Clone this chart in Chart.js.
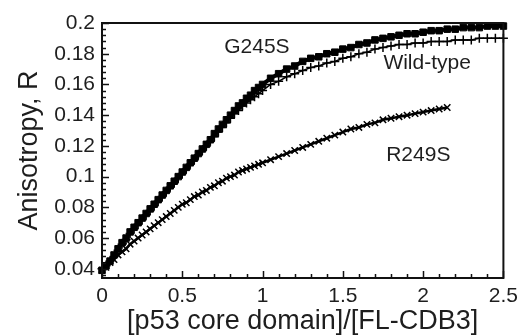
<!DOCTYPE html>
<html>
<head>
<meta charset="utf-8">
<script src="https://cdn.jsdelivr.net/npm/chart.js@4.4.1/dist/chart.umd.min.js"></script>
<style>
  html, body { margin: 0; padding: 0; background: #fff; }
  #wrap { width: 524px; height: 335px; }
</style>
</head>
<body>
<div id="wrap"><canvas id="c"></canvas></div>
<script>
// [p53 core domain]/[FL-CDB3]
const ratio = [0, 0.025, 0.05, 0.075, 0.1, 0.125, 0.15, 0.175, 0.2, 0.225, 0.25, 0.275, 0.3, 0.325, 0.35, 0.375, 0.4, 0.425, 0.45, 0.475,
	0.5, 0.525, 0.55, 0.575, 0.6, 0.625, 0.65, 0.675, 0.7, 0.725, 0.75, 0.775, 0.8, 0.825, 0.85, 0.875, 0.9, 0.925, 0.95, 0.975,
	1.0, 1.05, 1.1, 1.15, 1.2, 1.25, 1.3, 1.35, 1.4, 1.45, 1.5, 1.55, 1.6, 1.65, 1.7, 1.75, 1.8, 1.85, 1.9, 1.95,
	2.0, 2.05, 2.1, 2.15, 2.2, 2.25, 2.3, 2.35, 2.4, 2.45, 2.5];

const g245s = [0.039, 0.042, 0.045, 0.049, 0.053, 0.057, 0.060, 0.064, 0.067, 0.070, 0.073, 0.076, 0.079, 0.082, 0.085, 0.088, 0.091, 0.094, 0.097, 0.100,
	0.103, 0.106, 0.109, 0.112, 0.115, 0.118, 0.121, 0.124, 0.128, 0.131, 0.134, 0.137, 0.140, 0.143, 0.146, 0.148, 0.151, 0.153, 0.156, 0.158,
	0.160, 0.164, 0.167, 0.170, 0.172, 0.175, 0.177, 0.178, 0.180, 0.181, 0.183, 0.184, 0.186, 0.187, 0.189, 0.190, 0.191, 0.192, 0.193, 0.193,
	0.194, 0.195, 0.195, 0.196, 0.196, 0.197, 0.197, 0.197, 0.198, 0.198, 0.198];

const wildType = [0.040, 0.042, 0.045, 0.048, 0.052, 0.056, 0.059, 0.063, 0.066, 0.069, 0.072, 0.075, 0.078, 0.081, 0.084, 0.087, 0.090, 0.093, 0.096, 0.099,
	0.102, 0.105, 0.108, 0.111, 0.114, 0.117, 0.120, 0.123, 0.126, 0.129, 0.132, 0.135, 0.138, 0.141, 0.143, 0.146, 0.148, 0.150, 0.152, 0.154,
	0.156, 0.160, 0.162, 0.165, 0.167, 0.169, 0.171, 0.172, 0.174, 0.175, 0.177, 0.178, 0.180, 0.181, 0.183, 0.184, 0.185, 0.186, 0.186, 0.187,
	0.187, 0.188, 0.188, 0.188, 0.189, 0.189, 0.189, 0.190, 0.190, 0.190, 0.190];

// R249S stops at 2.15
const r249s = [0.039, 0.041, 0.044, 0.046, 0.049, 0.051, 0.053, 0.056, 0.058, 0.060, 0.062, 0.064, 0.066, 0.068, 0.070, 0.072, 0.074, 0.076, 0.078, 0.080,
	0.082, 0.083, 0.085, 0.087, 0.088, 0.090, 0.091, 0.093, 0.094, 0.096, 0.097, 0.099, 0.100, 0.101, 0.103, 0.104, 0.105, 0.106, 0.107, 0.108,
	0.109, 0.111, 0.113, 0.115, 0.117, 0.119, 0.121, 0.123, 0.125, 0.127, 0.129, 0.131, 0.132, 0.134, 0.135, 0.137, 0.138, 0.139, 0.140, 0.141,
	0.142, 0.143, 0.144, 0.145];

const xTicks = [0, 0.5, 1, 1.5, 2, 2.5];
const yTicks = [0.04, 0.06, 0.08, 0.1, 0.12, 0.14, 0.16, 0.18, 0.2];

const labels = [
	{ text: 'G245S', x: 0.965, y: 0.1845 },
	{ text: 'Wild-type', x: 2.025, y: 0.1736 },
	{ text: 'R249S', x: 1.97, y: 0.1137 }
];

const FONT = '"Liberation Sans", Arial, Helvetica, sans-serif';
const INK = '#1e1e1e';

function pts(ys) {
	return ys.map((y, i) => ({ x: ratio[i], y: y }));
}

// box, inward ticks and curve names
const framePlugin = {
	id: 'frame',
	afterDatasetsDraw(chart) {
		const { ctx, chartArea: a, scales } = chart;
		const xs = scales.x, ys = scales.y;
		ctx.save();
		ctx.strokeStyle = '#111';
		ctx.lineWidth = 1.5;
		ctx.beginPath();
		for (let i = 0; i <= 25; i++) {
			const px = Math.round(xs.getPixelForValue(i / 10)) + 0.5;
			const len = i % 5 === 0 ? 7 : 4;
			ctx.moveTo(px, a.bottom);
			ctx.lineTo(px, a.bottom - len);
		}
		for (let i = 0; i <= 41; i++) {
			const v = 0.2 - i * 0.004;
			if (v < ys.min) break;
			const py = Math.round(ys.getPixelForValue(v)) + 0.5;
			const len = i % 5 === 0 ? 7 : 4;
			ctx.moveTo(a.left, py);
			ctx.lineTo(a.left + len, py);
		}
		ctx.stroke();
		ctx.lineWidth = 2;
		ctx.strokeRect(a.left, a.top, a.right - a.left, a.bottom - a.top);

		ctx.fillStyle = INK;
		ctx.font = '21px ' + FONT;
		ctx.textAlign = 'center';
		ctx.textBaseline = 'middle';
		labels.forEach(l => {
			ctx.fillText(l.text, xs.getPixelForValue(l.x), ys.getPixelForValue(l.y));
		});
		ctx.restore();
	}
};

const common = {
	showLine: false,
	borderColor: '#000',
	backgroundColor: '#000',
	pointBorderWidth: 1.5,
	pointRadius: 4,
	clip: 5
};

new Chart(document.getElementById('c'), {
	type: 'scatter',
	data: {
		datasets: [
			{ ...common, label: 'R249S', data: pts(r249s), pointStyle: 'crossRot', pointRadius: 4.5, showLine: true, borderWidth: 2.5 },
			{ ...common, label: 'Wild-type', data: pts(wildType), pointStyle: 'cross', pointRadius: 4.5, showLine: true, borderWidth: 1.5 },
			{ ...common, label: 'G245S', data: pts(g245s), pointStyle: 'rect', pointRadius: 4.6, pointBorderWidth: 1, showLine: true, borderWidth: 4 }
		]
	},
	options: {
		responsive: true,
		maintainAspectRatio: false,
		animation: false,
		layout: { padding: { top: 23, right: 14, left: 0, bottom: 0 } },
		plugins: { legend: { display: false }, tooltip: { enabled: false } },
		scales: {
			x: {
				type: 'linear',
				min: 0,
				max: 2.5,
				grid: { display: false, drawTicks: false },
				border: { display: false },
				afterBuildTicks: s => { s.ticks = xTicks.map(v => ({ value: v })); },
				afterFit: s => { s.height = 57; },
				ticks: {
					padding: 6,
					color: INK,
					font: { family: FONT, size: 21 },
					maxRotation: 0,
					callback: v => String(v)
				},
				title: {
					display: true,
					text: '[p53 core domain]/[FL-CDB3]',
					color: INK,
					font: { family: FONT, size: 27, lineHeight: 1 },
					padding: { top: 0, bottom: 0 }
				}
			},
			y: {
				type: 'linear',
				min: 0.034,
				max: 0.2,
				grid: { display: false, drawTicks: false },
				border: { display: false },
				afterBuildTicks: s => { s.ticks = yTicks.map(v => ({ value: v })); },
				afterFit: s => { s.width = 102; },
				ticks: {
					padding: 7,
					color: INK,
					font: { family: FONT, size: 21 },
					callback: v => String(+v.toFixed(3))
				},
				title: {
					display: true,
					text: 'Anisotropy, R',
					color: INK,
					font: { family: FONT, size: 27, lineHeight: 1 },
					padding: { top: 16, bottom: 0 }
				}
			}
		}
	},
	plugins: [framePlugin]
});
</script>
</body>
</html>
